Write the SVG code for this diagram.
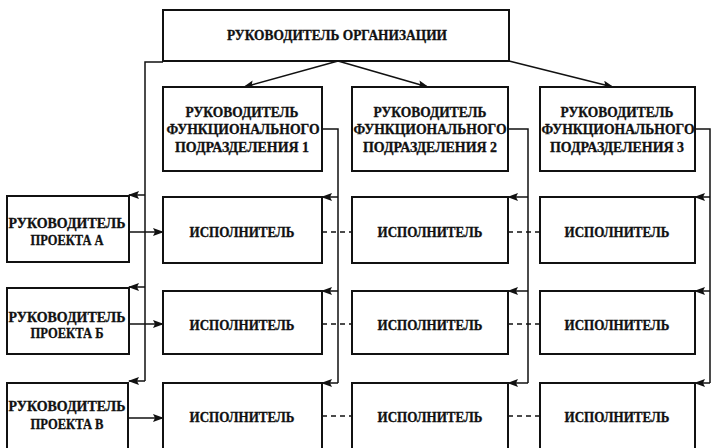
<svg xmlns="http://www.w3.org/2000/svg" width="712" height="448" viewBox="0 0 712 448">
<defs>
<marker id="ah" markerUnits="userSpaceOnUse" markerWidth="11" markerHeight="8" refX="10" refY="4" orient="auto">
<path d="M0,0 L11,4 L0,8 L2,4 Z" fill="#111"/>
</marker>
<style>
.box{fill:#fff;stroke:#111;stroke-width:2}
.t{font-family:"Liberation Serif","DejaVu Serif",serif;font-weight:bold;font-size:14px;fill:#111;stroke:#111;stroke-width:0.3;text-anchor:middle}
.c{fill:none;stroke:#111;stroke-width:1.5}
.a{marker-end:url(#ah)}
.d{fill:none;stroke:#111;stroke-width:1.5;stroke-dasharray:5 4}
</style>
</defs>
<rect width="712" height="448" fill="#fff"/>
<g id="connectors">
<path class="c a" d="M338,61 L244,87"/>
<path class="c a" d="M338,61 L428,87"/>
<path class="c a" d="M509,61 L613,87"/>
<path class="c" d="M163,62 H145 V381"/>
<path class="c a" d="M145,195 H129"/>
<path class="c a" d="M145,287 H129"/>
<path class="c a" d="M145,381 H129"/>
<path class="c" d="M322,129 H338 V383"/>
<path class="c a" d="M338,197 H322"/>
<path class="c a" d="M338,291 H322"/>
<path class="c a" d="M338,383 H322"/>
<path class="c" d="M508,129 H528 V383"/>
<path class="c a" d="M528,197 H508"/>
<path class="c a" d="M528,291 H508"/>
<path class="c a" d="M528,383 H508"/>
<path class="c" d="M695,129 H710 V383"/>
<path class="c a" d="M710,197 H695"/>
<path class="c a" d="M710,291 H695"/>
<path class="c a" d="M710,383 H695"/>
<path class="c a" d="M129,232 H163"/>
<path class="c a" d="M129,324 H163"/>
<path class="c a" d="M129,418 H163"/>
<path class="d" d="M322,232 H352"/>
<path class="d" d="M322,324 H352"/>
<path class="d" d="M322,416 H352"/>
<path class="d" d="M508,232 H540"/>
<path class="d" d="M508,324 H540"/>
<path class="d" d="M508,416 H540"/>
</g>
<g id="org">
<rect class="box" x="163" y="10" width="346" height="51"/>
<text class="t" x="337" y="40" textLength="220" lengthAdjust="spacingAndGlyphs">РУКОВОДИТЕЛЬ ОРГАНИЗАЦИИ</text>
</g>
<g id="func1">
<rect class="box" x="163" y="87" width="159" height="84"/>
<text class="t" x="242" y="117" textLength="113" lengthAdjust="spacingAndGlyphs">РУКОВОДИТЕЛЬ</text>
<text class="t" x="243" y="134" textLength="153" lengthAdjust="spacingAndGlyphs">ФУНКЦИОНАЛЬНОГО</text>
<text class="t" x="242" y="152" textLength="134" lengthAdjust="spacingAndGlyphs">ПОДРАЗДЕЛЕНИЯ 1</text>
</g>
<g id="func2">
<rect class="box" x="352" y="87" width="156" height="84"/>
<text class="t" x="430" y="117" textLength="113" lengthAdjust="spacingAndGlyphs">РУКОВОДИТЕЛЬ</text>
<text class="t" x="430" y="134" textLength="153" lengthAdjust="spacingAndGlyphs">ФУНКЦИОНАЛЬНОГО</text>
<text class="t" x="430" y="152" textLength="134" lengthAdjust="spacingAndGlyphs">ПОДРАЗДЕЛЕНИЯ 2</text>
</g>
<g id="func3">
<rect class="box" x="540" y="87" width="155" height="84"/>
<text class="t" x="617" y="117" textLength="113" lengthAdjust="spacingAndGlyphs">РУКОВОДИТЕЛЬ</text>
<text class="t" x="618" y="134" textLength="153" lengthAdjust="spacingAndGlyphs">ФУНКЦИОНАЛЬНОГО</text>
<text class="t" x="617" y="152" textLength="134" lengthAdjust="spacingAndGlyphs">ПОДРАЗДЕЛЕНИЯ 3</text>
</g>
<g id="projA">
<rect class="box" x="7" y="196" width="122" height="66"/>
<text class="t" x="67" y="228" textLength="117" lengthAdjust="spacingAndGlyphs">РУКОВОДИТЕЛЬ</text>
<text class="t" x="67" y="245" textLength="73" lengthAdjust="spacingAndGlyphs">ПРОЕКТА А</text>
</g>
<g id="projB">
<rect class="box" x="7" y="288" width="122" height="66"/>
<text class="t" x="67" y="322" textLength="117" lengthAdjust="spacingAndGlyphs">РУКОВОДИТЕЛЬ</text>
<text class="t" x="67" y="338" textLength="73" lengthAdjust="spacingAndGlyphs">ПРОЕКТА Б</text>
</g>
<g id="projV">
<rect class="box" x="7" y="383" width="121" height="80"/>
<text class="t" x="67" y="411" textLength="117" lengthAdjust="spacingAndGlyphs">РУКОВОДИТЕЛЬ</text>
<text class="t" x="67" y="429" textLength="73" lengthAdjust="spacingAndGlyphs">ПРОЕКТА В</text>
</g>
<g id="exec11"><rect class="box" x="163" y="197" width="159" height="66"/><text class="t" x="242" y="237" textLength="105" lengthAdjust="spacingAndGlyphs">ИСПОЛНИТЕЛЬ</text></g>
<g id="exec12"><rect class="box" x="352" y="197" width="156" height="66"/><text class="t" x="430" y="237" textLength="105" lengthAdjust="spacingAndGlyphs">ИСПОЛНИТЕЛЬ</text></g>
<g id="exec13"><rect class="box" x="540" y="197" width="155" height="66"/><text class="t" x="617" y="237" textLength="105" lengthAdjust="spacingAndGlyphs">ИСПОЛНИТЕЛЬ</text></g>
<g id="exec21"><rect class="box" x="163" y="291" width="159" height="63"/><text class="t" x="242" y="330" textLength="105" lengthAdjust="spacingAndGlyphs">ИСПОЛНИТЕЛЬ</text></g>
<g id="exec22"><rect class="box" x="352" y="291" width="156" height="63"/><text class="t" x="430" y="330" textLength="105" lengthAdjust="spacingAndGlyphs">ИСПОЛНИТЕЛЬ</text></g>
<g id="exec23"><rect class="box" x="540" y="291" width="155" height="63"/><text class="t" x="617" y="330" textLength="105" lengthAdjust="spacingAndGlyphs">ИСПОЛНИТЕЛЬ</text></g>
<g id="exec31"><rect class="box" x="163" y="383" width="159" height="80"/><text class="t" x="242" y="422" textLength="105" lengthAdjust="spacingAndGlyphs">ИСПОЛНИТЕЛЬ</text></g>
<g id="exec32"><rect class="box" x="352" y="383" width="156" height="80"/><text class="t" x="430" y="422" textLength="105" lengthAdjust="spacingAndGlyphs">ИСПОЛНИТЕЛЬ</text></g>
<g id="exec33"><rect class="box" x="540" y="383" width="155" height="80"/><text class="t" x="617" y="422" textLength="105" lengthAdjust="spacingAndGlyphs">ИСПОЛНИТЕЛЬ</text></g>
</svg>
